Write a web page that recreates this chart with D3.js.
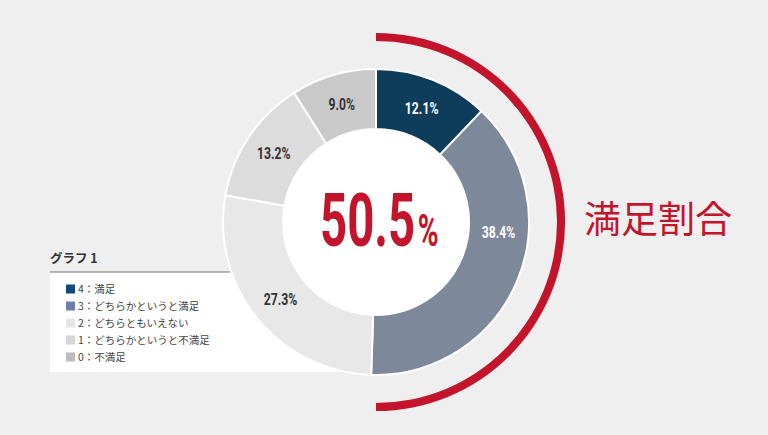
<!DOCTYPE html>
<html>
<head>
<meta charset="utf-8">
<script src="https://cdn.jsdelivr.net/npm/d3@7"></script>
<style>
  html, body { margin: 0; padding: 0; background: #efefef; }
  svg { display: block; }
</style>
</head>
<body>
<svg id="chart" width="768" height="435"></svg>
<script>
// data
const categories = ["4：満足", "3：どちらかというと満足", "2：どちらともいえない", "1：どちらかというと不満足", "0：不満足"];
const values = [12.1, 38.4, 27.3, 13.2, 9.0];
const sliceColors = ["#0e3c5b", "#7e889b", "#e8e8e8", "#dcdcdc", "#c9c9c9"];
const legendColors = ["#0d4b7e", "#6a7fae", "#e5e5e5", "#d5d5d5", "#bcbcbc"];
const labelColors = ["#fff", "#fff", "#333", "#333", "#333"];
const totalLabel = "50.5";
const sideLabel = "満足割合";
const legendTitle = "グラフ 1";

const width = 768, height = 435;
const cx = 376, cy = 222;
const outerR = 153, innerR = 93, ringR = 185;
const red = "#c4142c";

const svg = d3.select("#chart");
svg.append("rect").attr("width", width).attr("height", height).attr("fill", "#efefef");

// legend box (sits under the donut)
const lg = svg.append("g").attr("class", "legend");
lg.append("rect").attr("x", 50).attr("y", 272).attr("width", 326).attr("height", 100).attr("fill", "#fff");
lg.append("line").attr("x1", 50).attr("x2", 300).attr("y1", 272).attr("y2", 272)
  .attr("stroke", "#777").attr("stroke-width", 1.2);
lg.append("text").attr("x", 50).attr("y", 263)
  .style("font-family", "'Noto Sans CJK JP', sans-serif").style("font-size", "12.5px")
  .style("font-weight", "bold").attr("fill", "#333")
  .text(legendTitle);

const rowY = d3.scalePoint().domain(categories).range([289, 357]);
const rows = lg.selectAll("g.row").data(categories).enter().append("g").attr("class", "row")
  .attr("transform", d => `translate(66,${rowY(d)})`);
rows.append("rect").attr("x", 0).attr("y", -4.5).attr("width", 9).attr("height", 9)
  .attr("fill", (d, i) => legendColors[i]);
rows.append("text").attr("x", 12).attr("y", 0).attr("dy", "0.36em")
  .style("font-family", "'Noto Sans CJK JP', sans-serif").style("font-size", "10.5px")
  .attr("fill", "#444").text(d => d);

// donut
const pie = d3.pie().sort(null).value(d => d)(values);
const arc = d3.arc().innerRadius(innerR).outerRadius(outerR);
const g = svg.append("g").attr("transform", `translate(${cx},${cy})`);
g.append("circle").attr("r", innerR).attr("fill", "#fff");
g.selectAll("path.slice").data(pie).enter().append("path").attr("class", "slice")
  .attr("d", arc).attr("fill", (d, i) => sliceColors[i])
  .attr("stroke", "#fff").attr("stroke-width", 2);

// slice labels, condensed look
const labelR = (innerR + outerR) / 2;
g.selectAll("text.pct").data(pie).enter().append("text").attr("class", "pct")
  .attr("transform", d => {
    let a = (d.startAngle + d.endAngle) / 2;
    // long slice crossing the right side: keep its label near the horizontal
    if (d.startAngle < Math.PI / 2 && d.endAngle > Math.PI / 2) a = Math.PI / 2 + 0.08;
    const x = Math.sin(a) * labelR, y = -Math.cos(a) * labelR;
    return `translate(${x},${y}) scale(0.74,1)`;
  })
  .attr("text-anchor", "middle").attr("dy", "0.36em")
  .style("font-family", "Roboto, 'Liberation Sans', sans-serif").style("font-size", "16.5px")
  .style("font-weight", "bold")
  .attr("fill", (d, i) => labelColors[i])
  .text(d => d.data.toFixed(1) + "%");

// centre total
const big = g.append("text").attr("transform", "translate(-56,24) scale(0.64,1)")
  .style("font-family", "Roboto, 'Liberation Sans', sans-serif").style("font-weight", "bold")
  .attr("fill", red);
big.append("tspan").style("font-size", "74px").text(totalLabel);
big.append("tspan").style("font-size", "44px").attr("dx", 4).text("%");

// red half ring on the satisfied side
const ringArc = d3.arc().innerRadius(ringR - 4).outerRadius(ringR + 4)
  .startAngle(0).endAngle(Math.PI);
g.append("path").attr("d", ringArc()).attr("fill", red);

svg.append("text").attr("x", 584).attr("y", 220).attr("dy", "0.36em")
  .style("font-family", "'Noto Sans CJK JP', sans-serif").style("font-size", "37px")
  .attr("fill", red).text(sideLabel);
</script>
</body>
</html>
